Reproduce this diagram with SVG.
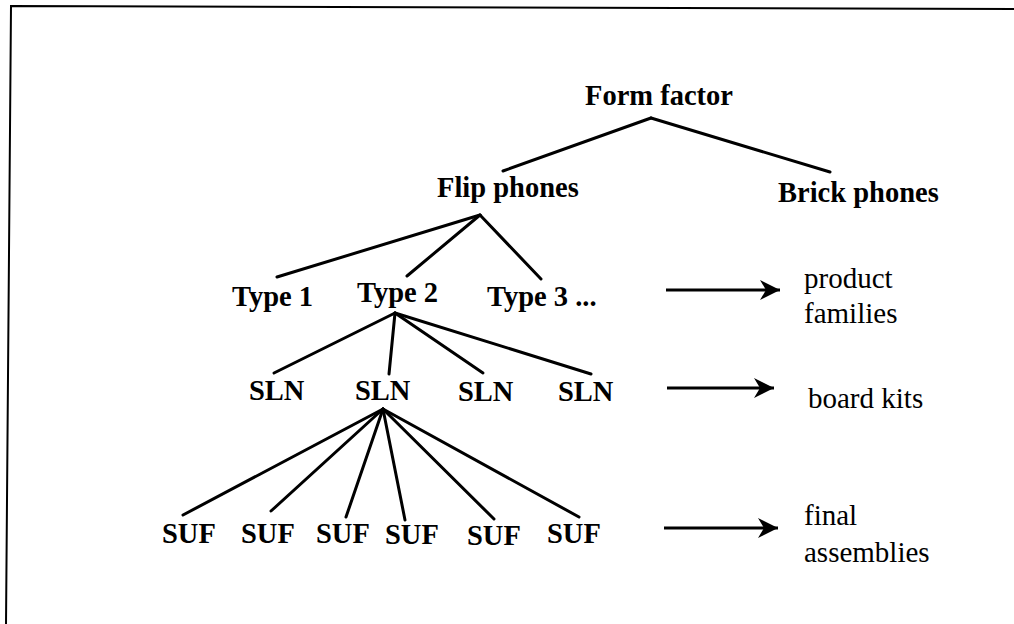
<svg xmlns="http://www.w3.org/2000/svg" width="1014" height="624" viewBox="0 0 1014 624">
<style>
.n{font-family:"Liberation Serif","Times New Roman",serif;font-weight:bold;font-size:28.5px;fill:#000}
.l{font-family:"Liberation Serif","Times New Roman",serif;font-size:29px;fill:#000}
.c line{stroke:#000;stroke-width:3;stroke-linecap:round}
.a line{stroke:#000;stroke-width:3}
</style>
<defs>
<marker id="ah" markerUnits="userSpaceOnUse" markerWidth="22" markerHeight="24" refX="20" refY="11" orient="auto">
<path d="M0,1 L20,11 L0,21 L6,11 Z" fill="#000"/>
</marker>
</defs>
<rect width="1014" height="624" fill="#fff"/>
<g id="frame" fill="none" stroke="#000" stroke-width="2">
<polyline points="6,624 11,6 1014,9"/>
</g>
<g id="connectors" class="c">
<line x1="651" y1="118" x2="503" y2="171"/>
<line x1="651" y1="118" x2="830" y2="172"/>
<line x1="480" y1="215" x2="277" y2="277"/>
<line x1="480" y1="215" x2="407" y2="276"/>
<line x1="480" y1="215" x2="541" y2="279"/>
<line x1="395" y1="313" x2="274" y2="373"/>
<line x1="395" y1="313" x2="389" y2="374"/>
<line x1="395" y1="313" x2="483" y2="373"/>
<line x1="395" y1="313" x2="591" y2="374"/>
<line x1="383" y1="409" x2="183" y2="515"/>
<line x1="383" y1="409" x2="271" y2="511"/>
<line x1="383" y1="409" x2="346" y2="517"/>
<line x1="383" y1="409" x2="405" y2="520"/>
<line x1="383" y1="409" x2="494" y2="519"/>
<line x1="383" y1="409" x2="579" y2="517"/>
</g>
<g id="arrows" class="a">
<line x1="666" y1="290" x2="780" y2="290" marker-end="url(#ah)"/>
<line x1="667" y1="388" x2="774" y2="388" marker-end="url(#ah)"/>
<line x1="664" y1="528" x2="778" y2="528" marker-end="url(#ah)"/>
</g>
<g id="form-factor"><text class="n" x="585" y="105">Form factor</text></g>
<g id="flip-phones"><text class="n" x="437" y="197">Flip phones</text></g>
<g id="brick-phones"><text class="n" x="778" y="202">Brick phones</text></g>
<g id="type1"><text class="n" x="232" y="306">Type 1</text></g>
<g id="type2"><text class="n" x="357" y="302">Type 2</text></g>
<g id="type3"><text class="n" x="487" y="306">Type 3 ...</text></g>
<g id="sln1"><text class="n" x="249" y="400">SLN</text></g>
<g id="sln2"><text class="n" x="355" y="400">SLN</text></g>
<g id="sln3"><text class="n" x="458" y="401">SLN</text></g>
<g id="sln4"><text class="n" x="558" y="401">SLN</text></g>
<g id="suf1"><text class="n" x="162" y="543">SUF</text></g>
<g id="suf2"><text class="n" x="241" y="543">SUF</text></g>
<g id="suf3"><text class="n" x="316" y="543">SUF</text></g>
<g id="suf4"><text class="n" x="385" y="544">SUF</text></g>
<g id="suf5"><text class="n" x="467" y="545">SUF</text></g>
<g id="suf6"><text class="n" x="547" y="543">SUF</text></g>
<g id="label-product-families"><text class="l" x="804" y="288">product</text><text class="l" x="804" y="323">families</text></g>
<g id="label-board-kits"><text class="l" x="808" y="408">board kits</text></g>
<g id="label-final-assemblies"><text class="l" x="804" y="525">final</text><text class="l" x="804" y="562">assemblies</text></g>
</svg>
